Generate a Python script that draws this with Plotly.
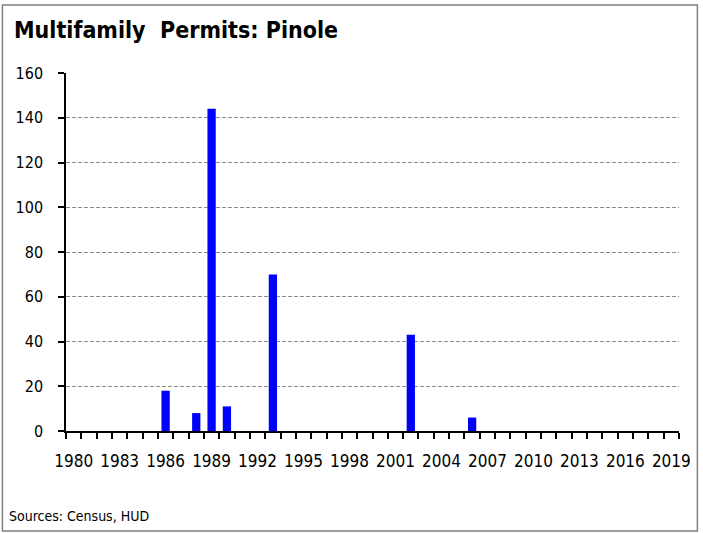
import plotly.graph_objects as go

years = list(range(1980, 2020))
permits_by_year = {1986: 18, 1988: 8, 1989: 144, 1990: 11, 1993: 70, 2002: 43, 2006: 6}
values = [permits_by_year.get(y, 0) for y in years]
tick_years = list(range(1980, 2020, 3))
tick_labels = [str(y) for y in tick_years]
y_ticks = list(range(0, 161, 20))

W, H = 703, 533
L, R, T, B = 66, 20, 73, 102
pw, ph = W - L - R, H - T - B

def px(x):
    return (x - L) / pw

def py(y):
    return (H - B - y) / ph

FONT = "DejaVu Sans Condensed, Liberation Sans Narrow, Arial Narrow, sans-serif"

fig = go.Figure()
fig.add_trace(go.Bar(x=years, y=values, marker=dict(color="#0000FF", line=dict(width=0)),
                     hoverinfo="skip"))

fig.update_layout(
    width=W, height=H,
    margin=dict(l=L, r=R, t=T, b=B),
    paper_bgcolor="white", plot_bgcolor="white",
    bargap=0.46,
    showlegend=False,
    font=dict(family=FONT, color="black"),
    xaxis=dict(
        range=[1979.5, 2019.5], tickmode="array", tickvals=tick_years, ticktext=tick_labels,
        ticks="", showgrid=False, zeroline=False,
        showline=True, linecolor="black", linewidth=1.5,
        tickfont=dict(size=17, family=FONT), ticklabelstandoff=14,
        minor=dict(tick0=1979.5, dtick=1, ticks="outside", ticklen=6, tickwidth=1.5,
                   tickcolor="black", showgrid=False),
    ),
    yaxis=dict(
        range=[0, 160], tickmode="array", tickvals=y_ticks,
        ticks="outside", ticklen=6, tickwidth=1.5, tickcolor="black",
        showline=True, linecolor="black", linewidth=1.5,
        showgrid=True, gridcolor="#8c8c8c", gridwidth=1, griddash="4px,2px",
        zeroline=False, tickfont=dict(size=16, family=FONT), ticklabelstandoff=12,
    ),
)

fig.add_shape(type="rect", xref="paper", yref="paper",
              x0=px(2), x1=px(701.5), y0=py(531), y1=py(5),
              line=dict(color="#808080", width=1.5), layer="below")

fig.add_annotation(text="<b>Multifamily  Permits: Pinole</b>", xref="paper", yref="paper",
                   x=px(12), y=py(30), xanchor="left", yanchor="middle", showarrow=False,
                   font=dict(size=23, family=FONT, color="black"))
fig.add_annotation(text="Sources: Census, HUD", xref="paper", yref="paper",
                   x=px(7), y=py(516), xanchor="left", yanchor="middle", showarrow=False,
                   font=dict(size=14, family=FONT, color="black"))

fig.write_html("out.html", config={"displayModeBar": False},
               post_script="document.body.style.margin='0';document.body.style.overflow='hidden';")
